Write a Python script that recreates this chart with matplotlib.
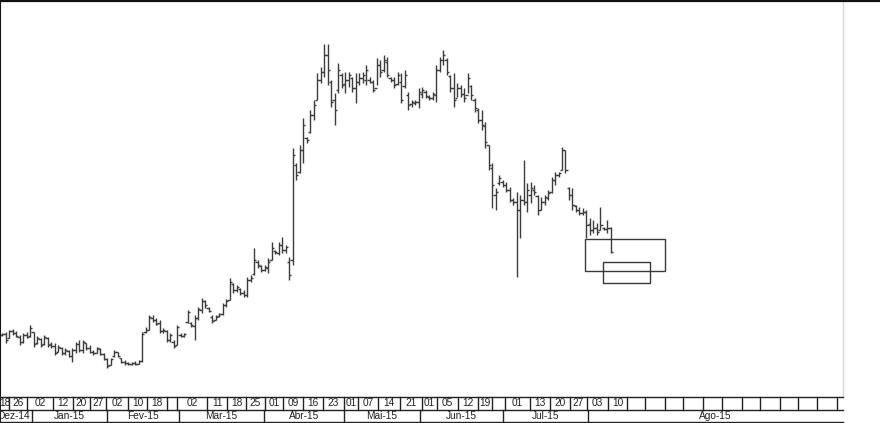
import numpy as np
import matplotlib
matplotlib.use("Agg")
import matplotlib.pyplot as plt
from matplotlib.patches import Rectangle
from matplotlib.lines import Line2D

# ---------------- data (price units, daily OHLC) ----------------
high = [67, 68, 70, 71, 69, 65, 67, 68, 75, 68, 64, 62, 65, 63, 58, 57, 55, 53, 52, 50,
        52, 58, 60, 60, 57, 55, 50, 53, 52, 47, 42, 42, 50, 48, 42, 40, 38, 38, 39, 40,
        68, 73, 85, 85, 82, 80, 72, 70, 67, 60, 75, 67, 67, 90, 78, 85, 93, 102, 100, 93,
        85, 85, 87, 97, 101, 122, 117, 115, 112, 110, 123, 125, 152, 140, 135, 135, 142, 158, 150, 158,
        163, 155, 143, 252, 237, 255, 282, 263, 290, 300, 327, 333, 356, 356, 320, 307, 337, 327, 328, 328,
        323, 327, 327, 328, 335, 323, 320, 342, 340, 345, 343, 323, 323, 328, 327, 330, 308, 300, 300, 312,
        313, 310, 305, 308, 335, 343, 350, 342, 325, 327, 317, 315, 312, 327, 315, 302, 292, 290, 278, 255,
        237, 212, 225, 220, 218, 213, 202, 208, 205, 240, 217, 218, 215, 205, 203, 205, 210, 223, 228, 228,
        253, 250, 213, 212, 195, 193, 192, 190, 182, 180, 177, 193, 173, 180, 173]
low = [64, 57, 62, 65, 63, 55, 57, 62, 63, 53, 56, 53, 55, 53, 52, 45, 48, 45, 45, 43,
       38, 47, 48, 47, 50, 47, 45, 47, 45, 40, 32, 35, 43, 43, 37, 35, 35, 35, 35, 36,
       38, 67, 70, 78, 75, 67, 67, 58, 58, 52, 55, 63, 63, 77, 73, 60, 80, 87, 92, 88,
       77, 80, 83, 85, 93, 100, 107, 108, 105, 103, 103, 118, 125, 132, 128, 129, 127, 140, 146, 145,
       147, 147, 120, 135, 220, 227, 237, 257, 267, 280, 300, 317, 323, 315, 293, 275, 307, 312, 307, 313,
       308, 297, 315, 317, 315, 317, 308, 315, 323, 328, 323, 318, 312, 315, 297, 312, 290, 293, 295, 292,
       302, 302, 300, 300, 298, 328, 335, 325, 308, 293, 303, 303, 298, 307, 300, 288, 277, 270, 252, 230,
       192, 190, 215, 213, 208, 198, 195, 123, 162, 195, 188, 197, 205, 185, 190, 195, 200, 207, 215, 223,
       230, 227, 200, 190, 188, 185, 185, 162, 165, 167, 165, 170, 170, 167, 147]
open_ = [65, 66, 62, 69, 67, 63, 58, 65, 64, 68, 57, 61, 56, 62, 56, 54, 48, 52, 47, 49,
         44, 50, 56, 50, 57, 52, 48, 47, 51, 46, 41, 35, 44, 48, 42, 38, 37, 36, 37, 36,
         39, 68, 70, 82, 80, 77, 69, 69, 60, 58, 55, 65, 64, 78, 77, 74, 82, 90, 99, 92,
         83, 80, 84, 86, 95, 100, 116, 110, 111, 107, 105, 120, 126, 138, 134, 130, 132, 140, 149, 147,
         155, 150, 138, 140, 235, 228, 250, 262, 268, 285, 300, 320, 328, 345, 318, 300, 310, 325, 316, 320,
         322, 312, 318, 322, 320, 320, 318, 312, 335, 330, 338, 322, 320, 316, 318, 314, 305, 296, 297, 298,
         306, 308, 303, 302, 305, 330, 340, 340, 324, 312, 302, 312, 306, 305, 314, 300, 290, 280, 274, 255,
         232, 205, 217, 218, 215, 210, 200, 198, 190, 200, 198, 205, 210, 204, 190, 198, 202, 208, 220, 225,
         230, 250, 212, 205, 194, 190, 187, 188, 176, 170, 172, 170, 172, 171, 172]
close = [66, 60, 69, 67, 64, 58, 65, 63, 72, 56, 62, 55, 63, 55, 54, 47, 53, 47, 50, 44,
         50, 56, 50, 58, 52, 48, 47, 52, 46, 41, 34, 41, 48, 44, 38, 37, 36, 37, 36, 39,
         66, 70, 83, 80, 76, 69, 70, 60, 65, 54, 73, 64, 66, 88, 75, 82, 91, 99, 95, 89,
         79, 83, 86, 95, 99, 118, 110, 113, 107, 105, 120, 122, 140, 135, 130, 133, 138, 152, 148, 155,
         150, 153, 125, 245, 225, 250, 275, 260, 285, 295, 320, 328, 345, 330, 298, 290, 330, 315, 320, 325,
         312, 318, 322, 325, 330, 318, 310, 335, 328, 340, 325, 320, 315, 325, 300, 325, 295, 298, 298, 308,
         310, 304, 302, 306, 330, 340, 345, 328, 312, 300, 312, 306, 302, 322, 305, 292, 280, 275, 258, 235,
         215, 208, 222, 215, 210, 200, 198, 190, 200, 198, 210, 212, 208, 190, 198, 203, 207, 220, 225, 227,
         250, 230, 205, 195, 190, 187, 188, 175, 170, 172, 168, 175, 171, 172, 148]

# weekly label row (cell edges in bar-index units) and month row
week_edges = [-0.6, 2.0, 7.1, 14.6, 20.3, 25.1, 29.7, 36.0, 41.4, 47.1, 50.0, 58.6, 64.3, 69.7,
              75.1, 80.3, 86.0, 91.7, 97.7, 101.7, 107.4, 113.7, 120.0, 124.3, 130.3, 136.0,
              140.0, 143.7, 150.9, 156.6, 162.3, 167.1, 173.1, 178.6, 183.7, 189.4, 194.6,
              200.3, 205.7, 211.4, 216.6, 222.3, 227.4, 232.9, 238.6, 240.3]
week_labels = ["18", "26", "02", "12", "20", "27", "02", "10", "18", "", "02", "11", "18", "25",
               "01", "09", "16", "23", "01", "07", "14", "21", "01", "05", "12", "19", "",
               "01", "13", "20", "27", "03", "10", "", "", "", "", "", "", "", "", "", "", "", ""]
month_edges = [-0.6, 8.6, 30.0, 50.6, 74.9, 97.7, 119.4, 143.1, 167.4, 240.3]
month_labels = ["Dez-14", "Jan-15", "Fev-15", "Mar-15", "Abr-15", "Mai-15", "Jun-15", "Jul-15", "Ago-15"]

# annotation boxes (x0, x1, y0, y1) in data units
boxes = [(166.6, 189.4, 129, 161), (171.7, 185.1, 117, 138)]

# ---------------- figure ----------------
W, H = 880, 423
fig = plt.figure(figsize=(W / 100, H / 100), dpi=100)
fig.patch.set_facecolor("white")
plt.rcParams['font.family'] = ['Liberation Sans', 'DejaVu Sans']

strip_h = 27
ax = fig.add_axes([0.0, strip_h / H, 843 / W, (H - strip_h) / H])
x = np.arange(len(high))
bar_col = "#3c3c3c"
ax.vlines(x, low, high, color=bar_col, lw=1.0)
ax.hlines(open_, x - 0.65, x, color=bar_col, lw=1.0)
ax.hlines(close, x, x + 0.65, color=bar_col, lw=1.0)
for (x0, x1, y0, y1) in boxes:
    ax.add_patch(Rectangle((x0, y0), x1 - x0, y1 - y0, fill=False, ec="#3a3a3a", lw=1.0))

ax.set_xlim(-0.6, 240.3)
ax.set_ylim(4, 400)
ax.set_xticks([])
ax.set_yticks([])
ax.spines['left'].set_color('#111111')
ax.spines['left'].set_linewidth(1.5)
ax.spines['top'].set_visible(False)
ax.spines['bottom'].set_visible(False)
ax.spines['right'].set_color('#d8d8d8')
ax.spines['right'].set_linewidth(1.0)

# top border across the full width
fig.add_artist(Line2D([0, 1], [1 - 0.8 / H, 1 - 0.8 / H], transform=fig.transFigure,
                      color='#111111', lw=1.6))

# date strip
sx = fig.add_axes([0.0, 0.0, 843 / W, strip_h / H])
sx.set_xlim(-0.6, 240.3)
sx.set_ylim(0, 27)
sx.axis('off')
lc = "#222222"
for yy in (26.5, 13.5, 1.0):
    sx.plot([-0.6, 240.3], [yy, yy], color=lc, lw=1.0, clip_on=False)
for e in week_edges[1:-1]:
    sx.plot([e, e], [13.5, 26.5], color=lc, lw=1.0)
for i, lab in enumerate(week_labels):
    if lab:
        sx.text((week_edges[i] + week_edges[i + 1]) / 2, 20.0, lab, ha='center', va='center',
                fontsize=7.3, color='#222222', clip_on=True)
for e in month_edges[1:-1]:
    sx.plot([e, e], [1.0, 13.5], color=lc, lw=1.0)
for i, lab in enumerate(month_labels):
    sx.text((month_edges[i] + month_edges[i + 1]) / 2 - (0.9 if i == 0 else 0), 7.0, lab,
            ha='center', va='center', fontsize=7.3, color='#222222', clip_on=True)
sx.plot([-0.6, -0.6], [1, 26.5], color=lc, lw=1.5, clip_on=False)

fig.savefig("out.png", dpi=100, facecolor="white")
